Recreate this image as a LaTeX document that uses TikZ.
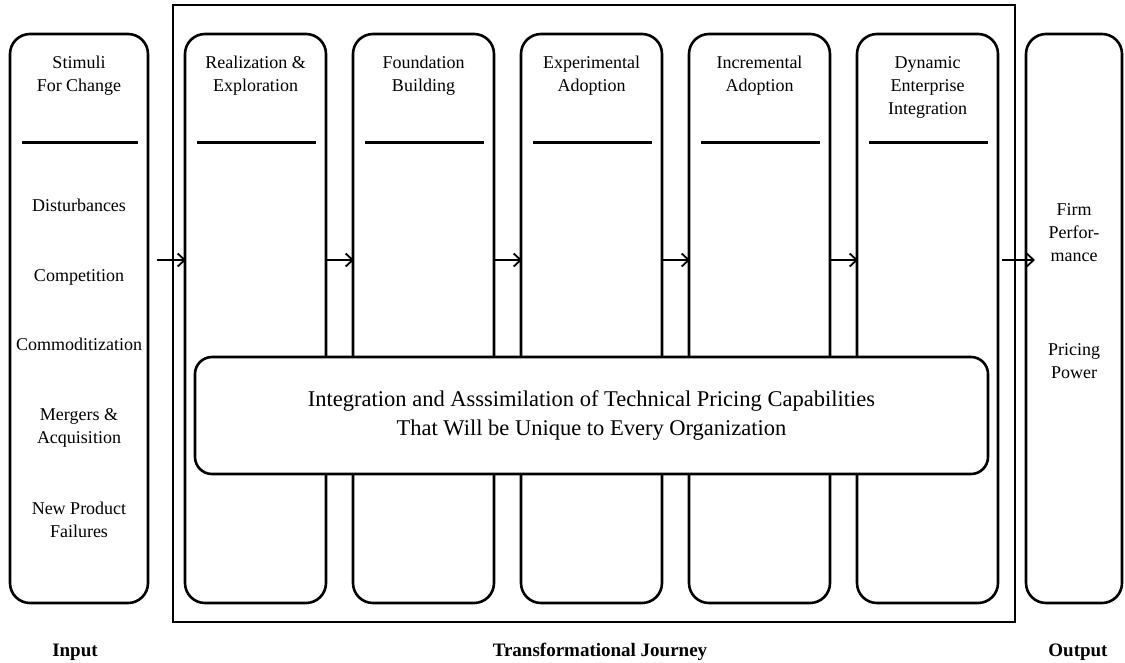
\documentclass[tikz,border=0pt]{standalone}
\usepackage{fontspec}
\setmainfont{Liberation Serif}
\usetikzlibrary{positioning,arrows.meta}

\begin{document}
\begin{tikzpicture}[x=1pt, y=-1pt,
  stage/.style={draw, line width=2.6pt, rounded corners=20pt, outer sep=0pt,
                minimum width=141pt, minimum height=569pt, inner sep=0pt},
  stagetext/.style={align=center, inner sep=0pt, font=\fontsize{18}{23}\selectfont},
  sepline/.style={line width=2.4pt},
  flow/.style={line width=1.8pt, -{Straight Barb[length=7pt,width=13pt]}},
  partname/.style={inner sep=0pt, font=\fontsize{19}{22}\selectfont\bfseries}]
  \useasboundingbox (0,0) rectangle (1125,662);

  % frame round the journey
  \node[draw, line width=2.4pt, minimum width=842pt, minimum height=617pt, inner sep=0pt]
       (journey) at (594,313.5) {};

  % columns
  \node[stage, minimum width=138pt] (stim) at (79,318.5) {};
  \node[stage] (real) at (255.5,318.5) {};
  \node[stage, right=27pt of real] (found) {};
  \node[stage, right=27pt of found] (exper) {};
  \node[stage, right=27pt of exper] (incr) {};
  \node[stage, right=27pt of incr] (dyn) {};
  \node[stage, minimum width=96pt] (outp) at (1074,318.5) {};

  % titles
  \node[stagetext, anchor=north] (stimT)  at ([yshift=-22pt]stim.north)  {Stimuli\\For Change};
  \node[stagetext, anchor=north] (realT)  at ([yshift=-22pt]real.north)  {Realization \&\\Exploration};
  \node[stagetext, anchor=north] (foundT) at ([yshift=-22pt]found.north) {Foundation\\Building};
  \node[stagetext, anchor=north] (experT) at ([yshift=-22pt]exper.north) {Experimental\\Adoption};
  \node[stagetext, anchor=north] (incrT)  at ([yshift=-22pt]incr.north)  {Incremental\\Adoption};
  \node[stagetext, anchor=north] (dynT)   at ([yshift=-22pt]dyn.north)   {Dynamic\\Enterprise\\Integration};

  % lines under the titles
  \foreach \col in {stim,real,found,exper,incr,dyn}
    \draw[sepline] ([xshift=12pt,yshift=-108.5pt]\col.north west)
                -- ([xshift=-10pt,yshift=-108.5pt]\col.north east);

  % input items
  \node[stagetext, anchor=base] (dist) at (stim.center |- 0,211) {Disturbances};
  \node[stagetext, anchor=base] (comp) at (stim.center |- 0,281) {Competition};
  \node[stagetext, anchor=base] (comm) at (stim.center |- 0,350) {Commoditization};
  \node[stagetext, anchor=base] (merg) at (stim.center |- 0,443) {Mergers \&\\Acquisition};
  \node[stagetext, anchor=base] (fail) at (stim.center |- 0,537) {New Product\\Failures};

  % output items
  \node[stagetext, anchor=base] (firm) at (outp.center |- 0,261) {Firm\\Perfor-\\mance};
  \node[stagetext, anchor=base] (pow)  at (outp.center |- 0,378) {Pricing\\Power};

  % arrows
  \coordinate (lvl) at (0,260);
  \draw[flow, shorten <=9pt, shorten >=-1pt] (stim.east |- lvl) -- (real.west |- lvl);
  \foreach \a/\b in {real/found, found/exper, exper/incr, incr/dyn}
    \draw[flow, shorten >=-1pt] (\a.east |- lvl) -- (\b.west |- lvl);
  \draw[flow, shorten <=4pt, shorten >=-9pt] (dyn.east |- lvl) -- (outp.west |- lvl);

  % band across the stages
  \node[stage, minimum width=793pt, minimum height=117pt, rounded corners=17pt, fill=white,
        align=center, font=\fontsize{22.5}{29}\selectfont] (integ) at (591.5,415.5)
       {Integration and Asssimilation of Technical Pricing Capabilities\\
        That Will be Unique to Every Organization};

  % part names
  \node[partname, anchor=base] (inp) at (75,656)   {Input};
  \node[partname, anchor=base] (trj) at (600,656)  {Transformational Journey};
  \node[partname, anchor=base] (out) at (1078,656) {Output};
\end{tikzpicture}
\end{document}
